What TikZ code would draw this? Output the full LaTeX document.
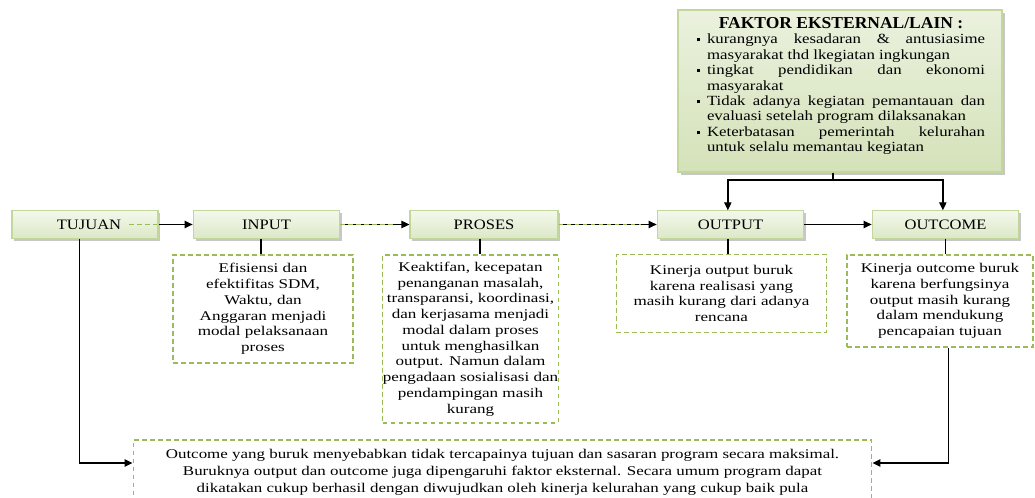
\documentclass[tikz,border=0pt]{standalone}
\usepackage{fontspec}
\setmainfont{Liberation Serif}
\newfontfamily\descfont[FakeStretch=1.28]{Liberation Serif}
\newfontfamily\boxfont[FakeStretch=1.15]{Liberation Serif}
\newfontfamily\fakfont[FakeStretch=1.2]{Liberation Serif}
\newfontfamily\titlefont[FakeStretch=1.05]{Liberation Serif Bold}
\newfontfamily\bottomfont[FakeStretch=1.27]{Liberation Serif}
\usetikzlibrary{arrows.meta,shadows}

\definecolor{bordergreen}{HTML}{C3D69B}
\definecolor{dashgreen}{HTML}{9BBB59}
\definecolor{topfill}{HTML}{F4F8EC}
\definecolor{botfill}{HTML}{DCE8C6}
\definecolor{faktop}{HTML}{EBF1DE}
\definecolor{fakbot}{HTML}{D4E2B9}

\newcommand{\fitem}[1]{\par\hangindent=7.5pt\hangafter=1\noindent\makebox[7.5pt][l]{\raisebox{1.6pt}{\rule{2.6pt}{2.6pt}}}#1}

\tikzset{
  topbox/.style={draw=bordergreen, line width=0.8pt, top color=topfill, bottom color=botfill,
    minimum height=20.5pt, inner sep=0pt,
    drop shadow={shadow xshift=1.8pt, shadow yshift=-1.8pt, fill=black!40, opacity=0.55},
    font=\boxfont\fontsize{10.8}{12}\selectfont},
  descbox/.style={draw=dashgreen, line width=0.9pt, dash pattern=on 3.5pt off 2.5pt,
    align=center, inner sep=0pt, font=\descfont\fontsize{10}{11.8}\selectfont},
  conn/.style={draw=black, line width=1pt},
  arr/.style={conn, -{Triangle[length=6pt,width=5.5pt]}},
  gdash/.style={draw=dashgreen, line width=1pt, dash pattern=on 3.5pt off 2.5pt},
}

\begin{document}
\begin{tikzpicture}[x=0.75pt, y=-0.75pt]
\useasboundingbox (0,0) rectangle (1035,498);

% external factor box
\node[draw=bordergreen, line width=0.8pt, top color=faktop, bottom color=fakbot,
      minimum width=243pt, minimum height=121.5pt, inner sep=0pt,
      drop shadow={shadow xshift=2pt, shadow yshift=-2pt, fill=black!40, opacity=0.55}]
      (faktor) at (840,91) {};
\node[text width=216pt, align=justify, inner sep=0pt, font=\fakfont\fontsize{10.5}{11.6}\selectfont]
  (faktortxt) at (841,86) {%
  {\centering\titlefont\fontsize{12.5}{13}\selectfont FAKTOR EKSTERNAL/LAIN :\par}%
  \fitem{kurangnya kesadaran \& antusiasime masyarakat thd lkegiatan ingkungan}%
  \fitem{tingkat pendidikan dan ekonomi masyarakat}%
  \fitem{Tidak adanya kegiatan pemantauan dan evaluasi setelah program dilaksanakan}%
  \fitem{Keterbatasan pemerintah kelurahan\linebreak untuk selalu memantau kegiatan}\par};

% top row
\node[topbox, minimum width=109.5pt] (tujuan)  at (85,224.5)    {\hspace*{6pt}TUJUAN};
\node[topbox, minimum width=110pt]   (input)   at (266.5,224.5) {INPUT};
\node[topbox, minimum width=111pt]   (proses)  at (484,224.5)   {PROSES};
\node[topbox, minimum width=110pt]   (output)  at (730.5,224.5) {OUTPUT};
\node[topbox, minimum width=110pt]   (outcome) at (945.5,224.5) {OUTCOME};

% description boxes
\node[descbox, minimum width=135pt, minimum height=81pt] (indesc) at (263,309)
  {Efisiensi dan\\ efektifitas SDM,\\ Waktu, dan\\ Anggaran menjadi\\ modal pelaksanaan\\ proses};
\node[descbox, minimum width=131pt, minimum height=126pt] (prodesc) at (470.5,339)
  {Keaktifan, kecepatan\\ penanganan masalah,\\ transparansi, koordinasi,\\ dan kerjasama menjadi\\ modal dalam proses\\ untuk menghasilkan\\ output. Namun dalam\\ pengadaan sosialisasi dan\\ pendampingan masih\\ kurang};
\node[descbox, minimum width=158pt, minimum height=58pt] (outdesc) at (721.5,293.5)
  {Kinerja output buruk\\ karena realisasi yang\\ masih kurang dari adanya\\ rencana};
\node[descbox, minimum width=139.5pt, minimum height=69pt] (outcdesc) at (940,301)
  {Kinerja outcome buruk\\ karena berfungsinya\\ output masih kurang\\ dalam mendukung\\ pencapaian tujuan};

% bottom box
\node[descbox, minimum width=554pt, minimum height=48pt, font=\bottomfont\fontsize{10}{12.75}\selectfont]
  (bottom) at (502.5,472)
  {Outcome yang buruk menyebabkan tidak tercapainya tujuan dan sasaran program secara maksimal.\\
   Buruknya output dan outcome juga dipengaruhi faktor eksternal. Secara umum program dapat\\
   dikatakan cukup berhasil dengan diwujudkan oleh kinerja kelurahan yang cukup baik pula};

% horizontal flow
\draw[arr] (tujuan.east) -- (input.west);
\draw[gdash] ([xshift=-22pt]tujuan.east) -- ([xshift=-1pt]tujuan.east);
\draw[arr] (input.east) -- (proses.west);
\draw[gdash] (input.east) -- ++(40pt,0);
\draw[arr] (proses.east) -- (output.west);
\draw[gdash] (proses.east) -- ++(62pt,0);
\draw[arr] (output.east) -- (outcome.west);

% external factor to output / outcome
\coordinate (junc) at (833,180);
\draw[conn] (junc |- faktor.south) -- (junc);
\draw[arr] (junc) -| ([xshift=-2pt]output.north);
\draw[arr] (junc) -| ([xshift=-2pt]outcome.north);

% down to descriptions
\draw[conn] (indesc.north -| 261,0) -- (261,0 |- input.south);
\draw[conn] ([xshift=-3pt]proses.south) -- ([xshift=-3pt]proses.south |- prodesc.north);
\draw[conn] ([xshift=-2pt]output.south) -- ([xshift=-2pt]output.south |- outdesc.north);
\draw[conn] (outcome.south) -- (outcome.south |- outcdesc.north);

% to bottom box
\draw[arr] ([xshift=-4pt]tujuan.south) |- ([yshift=6.75pt]bottom.west);
\draw[arr] ([xshift=2pt]outcome.south |- outcdesc.south) |- ([yshift=6.75pt]bottom.east);
\end{tikzpicture}
\end{document}
